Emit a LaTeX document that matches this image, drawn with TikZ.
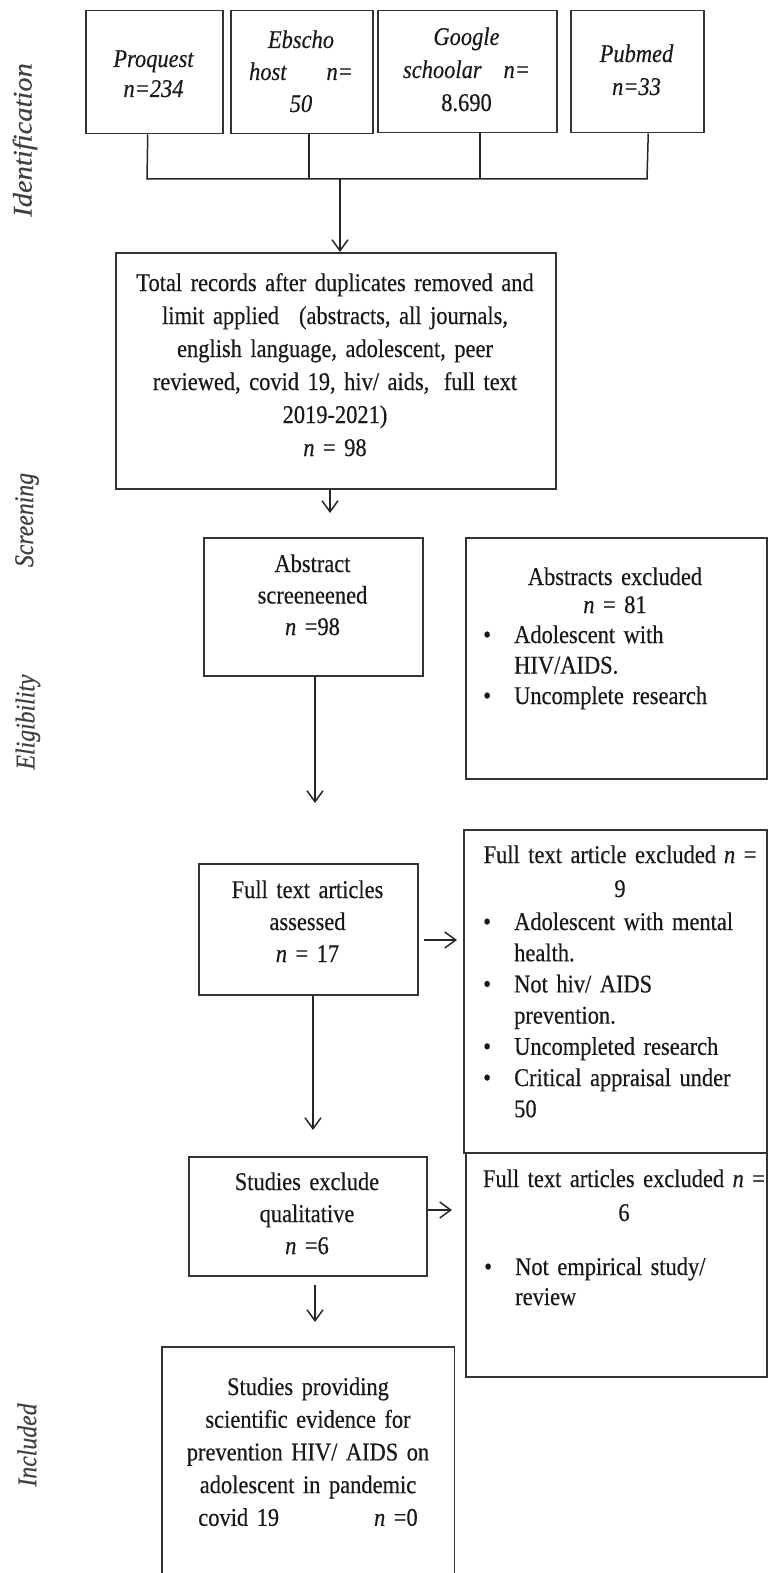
\documentclass[tikz,border=0pt]{standalone}
\usepackage{fontspec}
\setmainfont{Liberation Serif}[FakeStretch=0.88,FakeBold=0.4]
\usetikzlibrary{arrows.meta}
\newcommand{\fsz}[1]{\fontsize{25.5}{#1}\selectfont}
\begin{document}
\begin{tikzpicture}[x=1pt,y=-1pt,
  box/.style={draw=black!80, line width=1.5pt, inner sep=0pt, anchor=north west},
  conn/.style={draw=black!85, line width=1.5pt},
  arr/.style={conn, -{Straight Barb[length=11pt,width=16pt,line width=1.5pt]}},
  txt/.style={inner sep=0pt, align=center, anchor=base, text=black!90},
  lst/.style={inner sep=0pt, align=left, anchor=base west, text=black!90},
  lab/.style={font=\fontsize{27}{30}\selectfont\itshape, rotate=90, inner sep=0pt, text=black!75}]
\useasboundingbox (0,0) rectangle (768,1573);

% side labels
\node[lab] (lid) at (25,140) {\scalebox{1.2}[1]{Identification}};
\node[lab] (lsc) at (27,520) {Screening};
\node[lab] (lel) at (28,722) {Eligibility};
\node[lab] (lin) at (27,1445) {Included};

% identification boxes
\node[box, minimum width=137pt, minimum height=123pt] (pq) at (85,10) {};
\node[box, minimum width=142pt, minimum height=123pt] (eb) at (230,10) {};
\node[box, minimum width=179pt, minimum height=122pt] (gs) at (377,10) {};
\node[box, minimum width=133pt, minimum height=122pt] (pm) at (570,10) {};

\node[txt, text width=135pt, font=\fsz{30}\itshape] (pqt) at (153.5,67) {Proquest\\ n=234};
\node[txt, text width=140pt, font=\fsz{32}\itshape] (ebt) at (301,48) {Ebscho\\ host\hspace{40pt}n=\\ 50};
\node[txt, text width=177pt, font=\fsz{33}\itshape] (gst) at (466.5,45) {Google\\ schoolar\hspace{22pt}n=\\ \upshape 8.690};
\node[txt, text width=131pt, font=\fsz{33}\itshape] (pmt) at (636.5,62) {Pubmed\\ n=33};

% merge lines
\coordinate (hl) at (147,179);
\coordinate (hr) at (647,179);
\coordinate (j) at (340,179);
\draw[conn] ([xshift=-6.5pt]pq.south) -- (hl) -- (hr) -- ([xshift=11pt]pm.south);
\draw[conn] ([xshift=7pt]eb.south) -- ([xshift=7pt]eb.south |- hl);
\draw[conn] ([xshift=12.5pt]gs.south) -- ([xshift=12.5pt]gs.south |- hl);

% total records
\node[box, minimum width=440pt, minimum height=236pt] (tot) at (115,252) {};
\draw[arr] (j) -- (j |- tot.north);
\node[txt, text width=436pt, font=\fsz{33}] (tott) at (335,291) {Total records after duplicates removed and\\ limit applied\hspace{20pt}(abstracts, all journals,\\ english language, adolescent, peer\\ reviewed, covid 19, hiv/ aids,\hspace{6pt} full text\\ 2019-2021)\\ \textit{n} = 98};

% abstract screened
\coordinate (c1) at (330,513);
\draw[arr] (c1 |- tot.south) -- (c1);
\node[box, minimum width=219pt, minimum height=138pt] (ab) at (203,537) {};
\node[txt, text width=215pt, font=\fsz{31.5}] (abt) at (312.5,572) {Abstract\\ screeneened\\ \textit{n} =98};

% abstracts excluded
\node[box, minimum width=301pt, minimum height=241pt] (abx) at (465,537) {};
\node[txt, text width=297pt, font=\fsz{28}] (abxt) at (615,585) {Abstracts excluded\\ \textit{n} = 81};
\node[lst, text width=278pt, font=\fsz{30.5}] (abxl) at (483,643) {\makebox[31pt][l]{\textbullet}Adolescent with\\ \hspace*{31pt}HIV/AIDS.\\ \makebox[31pt][l]{\textbullet}Uncomplete research};

% full text assessed
\coordinate (c2) at (315,803);
\draw[arr] (c2 |- ab.south) -- (c2);
\node[box, minimum width=219pt, minimum height=131pt] (fta) at (198,863) {};
\node[txt, text width=215pt, font=\fsz{32}] (ftat) at (307.5,898) {Full text articles\\ assessed\\ \textit{n} = 17};

% full text excluded 1
\node[box, minimum width=303pt, minimum height=323pt] (ftx) at (463,829) {};
\node[txt, text width=300pt, font=\fsz{34}] (ftxt) at (620,863) {Full text article excluded\hspace{8pt}\textit{n} =\\ 9};
\node[lst, text width=278pt, font=\fsz{31.2}] (ftxl) at (483,930) {\makebox[31pt][l]{\textbullet}Adolescent with mental\\ \hspace*{31pt}health.\\ \makebox[31pt][l]{\textbullet}Not hiv/ AIDS\\ \hspace*{31pt}prevention.\\ \makebox[31pt][l]{\textbullet}Uncompleted research\\ \makebox[31pt][l]{\textbullet}Critical appraisal under\\ \hspace*{31pt}50};
\coordinate (c3) at (457,940);
\draw[arr, shorten <=5pt] (c3 -| fta.east) -- (c3);

% studies exclude qualitative
\coordinate (c4) at (313,1130);
\draw[arr] (c4 |- fta.south) -- (c4);
\node[box, minimum width=238pt, minimum height=119pt] (se) at (188,1156) {};
\node[txt, text width=234pt, font=\fsz{32}] (set) at (307,1190) {Studies exclude\\ qualitative\\ \textit{n} =6};

% full text excluded 2
\node[box, minimum width=301pt, minimum height=224pt] (ftx2) at (465,1152) {};
\node[txt, text width=300pt, font=\fsz{34}] (ftx2t) at (624,1187) {Full text articles excluded \textit{n} =\\ 6};
\node[lst, text width=278pt, font=\fsz{30}] (ftx2l) at (484,1275) {\makebox[31pt][l]{\textbullet}Not empirical study/\\ \hspace*{31pt}review};
\coordinate (c5) at (452,1210);
\draw[arr] (c5 -| se.east) -- (c5);

% included
\coordinate (c6) at (315,1322);
\draw[arr, shorten <=8pt] (c6 |- se.south) -- (c6);
\node[inner sep=0pt, anchor=north west, minimum width=292pt, minimum height=226pt] (fin) at (162,1347) {};
\draw[draw=black!80, line width=1.5pt] (fin.south west) -- (fin.north west) -- (fin.north east) -- (fin.south east);
\node[txt, text width=288pt, font=\fsz{32.7}] (fint) at (308,1395) {Studies providing\\ scientific evidence for\\ prevention HIV/ AIDS on\\ adolescent in pandemic\\ covid 19\hspace{95pt}\textit{n} =0};
\end{tikzpicture}
\end{document}
